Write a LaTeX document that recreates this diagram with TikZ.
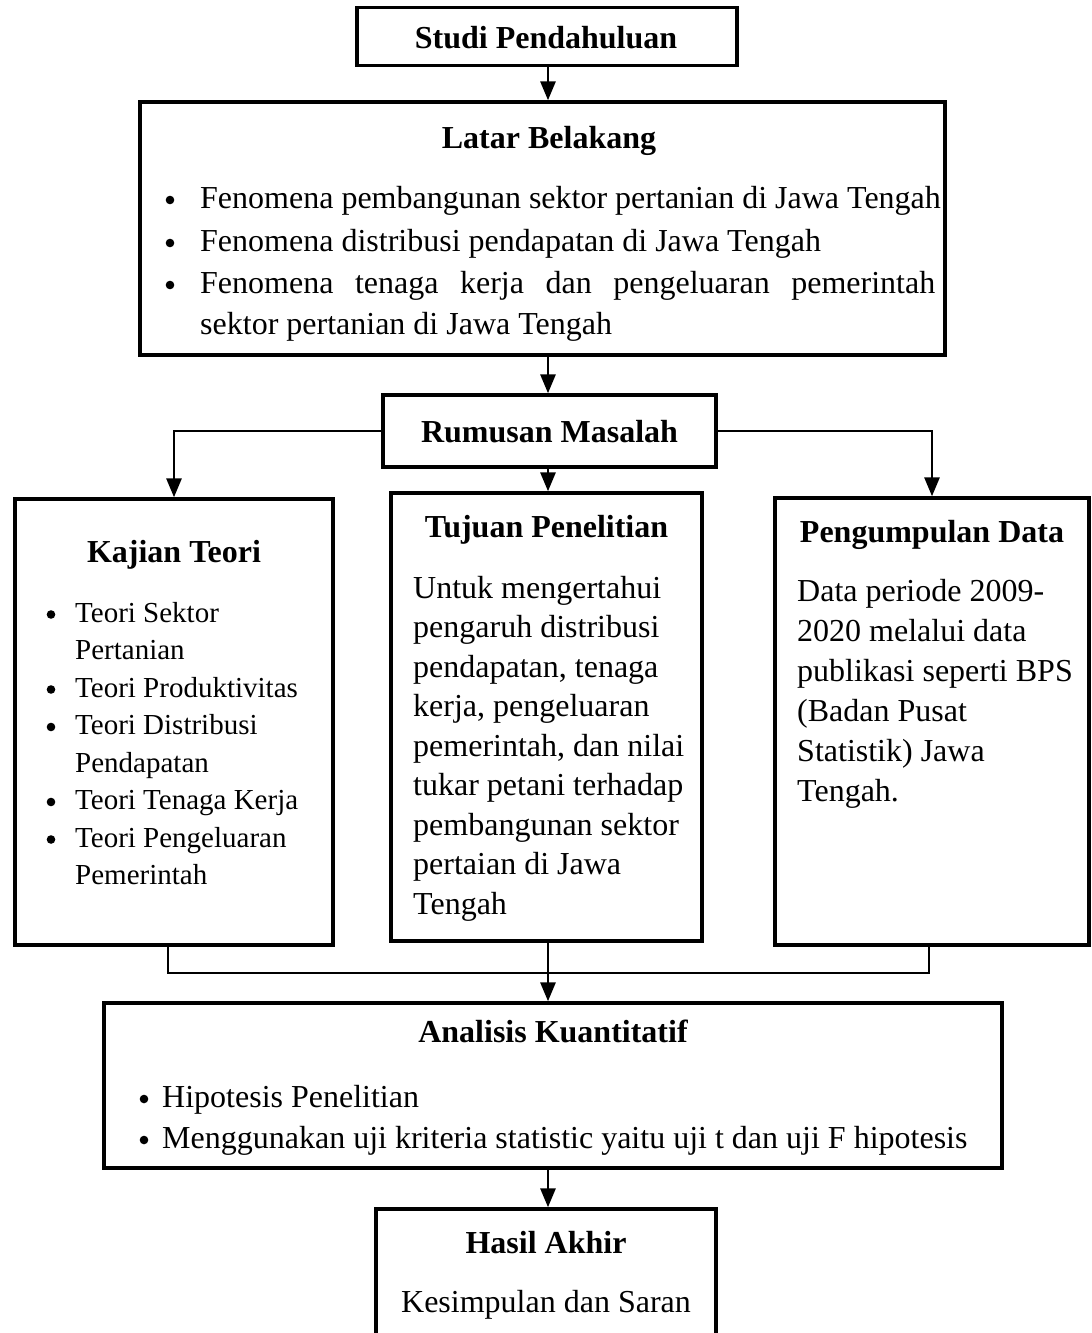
\documentclass[tikz,border=0pt]{standalone}
\usepackage{fontspec}
\setmainfont{Liberation Serif}
\usetikzlibrary{arrows.meta}
\begin{document}
\begin{tikzpicture}[x=1pt,y=-1pt,
  box/.style={draw, line width=3.4pt, inner sep=0pt},
  ttl/.style={font=\fontsize{32}{38}\selectfont\bfseries, anchor=base, inner sep=0pt},
  txt/.style={font=\fontsize{32}{38}\selectfont, anchor=base west, inner sep=0pt},
  ctxt/.style={font=\fontsize{32}{38}\selectfont, anchor=base, inner sep=0pt},
  sml/.style={font=\fontsize{29}{35}\selectfont, anchor=base west, inner sep=0pt},
  dot/.style={circle, fill, inner sep=0pt, minimum size=8.6pt},
  conn/.style={line width=2.9pt},
  arr/.style={conn, -{Triangle[length=19pt,width=15pt]}}]
\useasboundingbox (0,0) rectangle (1092,1333);
\fill[white] (0,0) rectangle (1092,1333);

% boxes
\node[box, minimum width=380pt, minimum height=58pt] (studi) at (547,36.5) {};
\node[box, minimum width=805pt, minimum height=253pt] (latar) at (542.5,228.5) {};
\node[box, minimum width=333pt, minimum height=72pt] (rumusan) at (549.5,431) {};
\node[box, minimum width=318pt, minimum height=446pt] (kajian) at (174,722) {};
\node[box, minimum width=311pt, minimum height=448pt] (tujuan) at (546.5,717) {};
\node[box, minimum width=314pt, minimum height=447pt] (peng) at (932,721.5) {};
\node[box, minimum width=898pt, minimum height=165pt] (analisis) at (553,1085.5) {};
\node[box, minimum width=340pt, minimum height=190pt] (hasil) at (546,1304) {};

% connectors
\coordinate (ax) at (548,0);
\coordinate (jl) at (168,973);
\coordinate (jr) at (929,973);
\draw[arr] (studi.south -| ax) -- (latar.north -| ax);
\draw[arr] (latar.south -| ax) -- (rumusan.north -| ax);
\draw[arr] (rumusan.west) -| (kajian.north);
\draw[arr] (rumusan.east) -| (peng.north);
\draw[arr] (rumusan.south -| ax) -- (tujuan.north -| ax);
\draw[conn] (kajian.south -| jl) -- (jl) -- (jr) -- (peng.south -| jr);
\draw[arr] (tujuan.south -| ax) -- (analisis.north -| ax);
\draw[arr] (analisis.south -| ax) -- (hasil.north -| ax);

% Studi
\node[ttl] (studiT) at (546,48) {Studi Pendahuluan};

% Latar
\node[ttl] (latarT) at (549,148) {Latar Belakang};
\node[dot] (lb1) at (170,200) {};
\node[txt] (l1) at (200,208) {Fenomena pembangunan sektor pertanian di Jawa Tengah};
\node[dot] (lb2) at (170,243) {};
\node[txt] (l2) at (200,251) {Fenomena distribusi pendapatan di Jawa Tengah};
\node[dot] (lb3) at (170,285) {};
\node[txt] (l3) at (200,293) {\makebox[735pt][s]{Fenomena tenaga kerja dan pengeluaran pemerintah}};
\node[txt] (l4) at (200,334) {sektor pertanian di Jawa Tengah};

% Rumusan
\node[ttl] (rumT) at (549.5,442) {Rumusan Masalah};

% Kajian
\node[ttl] (kajT) at (174,562) {Kajian Teori};
\node[dot] (kb1) at (51,614.5) {};
\node[sml] (k1) at (75,622) {Teori Sektor};
\node[sml] (k2) at (75,659.5) {Pertanian};
\node[dot] (kb2) at (51,689.5) {};
\node[sml] (k3) at (75,697) {Teori Produktivitas};
\node[dot] (kb3) at (51,727) {};
\node[sml] (k4) at (75,734.5) {Teori Distribusi};
\node[sml] (k5) at (75,772) {Pendapatan};
\node[dot] (kb4) at (51,802) {};
\node[sml] (k6) at (75,809.5) {Teori Tenaga Kerja};
\node[dot] (kb5) at (51,839.5) {};
\node[sml] (k7) at (75,847) {Teori Pengeluaran};
\node[sml] (k8) at (75,884.5) {Pemerintah};

% Tujuan
\node[ttl] (tujT) at (546.5,537) {Tujuan Penelitian};
\node[txt] (t1) at (413,598) {Untuk mengertahui};
\node[txt] (t2) at (413,637.5) {pengaruh distribusi};
\node[txt] (t3) at (413,677) {pendapatan, tenaga};
\node[txt] (t4) at (413,716.5) {kerja, pengeluaran};
\node[txt] (t5) at (413,756) {pemerintah, dan nilai};
\node[txt] (t6) at (413,795.5) {tukar petani terhadap};
\node[txt] (t7) at (413,835) {pembangunan sektor};
\node[txt] (t8) at (413,874.5) {pertaian di Jawa};
\node[txt] (t9) at (413,914) {Tengah};

% Pengumpulan
\node[ttl] (pengT) at (932,542) {Pengumpulan Data};
\node[txt] (p1) at (797,601) {Data periode 2009-};
\node[txt] (p2) at (797,641) {2020 melalui data};
\node[txt] (p3) at (797,681) {publikasi seperti BPS};
\node[txt] (p4) at (797,721) {(Badan Pusat};
\node[txt] (p5) at (797,761) {Statistik) Jawa};
\node[txt] (p6) at (797,801) {Tengah.};

% Analisis
\node[ttl] (anaT) at (553,1042) {Analisis Kuantitatif};
\node[dot] (ab1) at (144,1099) {};
\node[txt] (a1) at (162,1107) {Hipotesis Penelitian};
\node[dot] (ab2) at (144,1140) {};
\node[txt] (a2) at (162,1148) {Menggunakan uji kriteria statistic yaitu uji t dan uji F hipotesis};

% Hasil
\node[ttl] (hasT) at (546,1253) {Hasil Akhir};
\node[ctxt] (h1) at (546,1312) {Kesimpulan dan Saran};
\end{tikzpicture}
\end{document}
